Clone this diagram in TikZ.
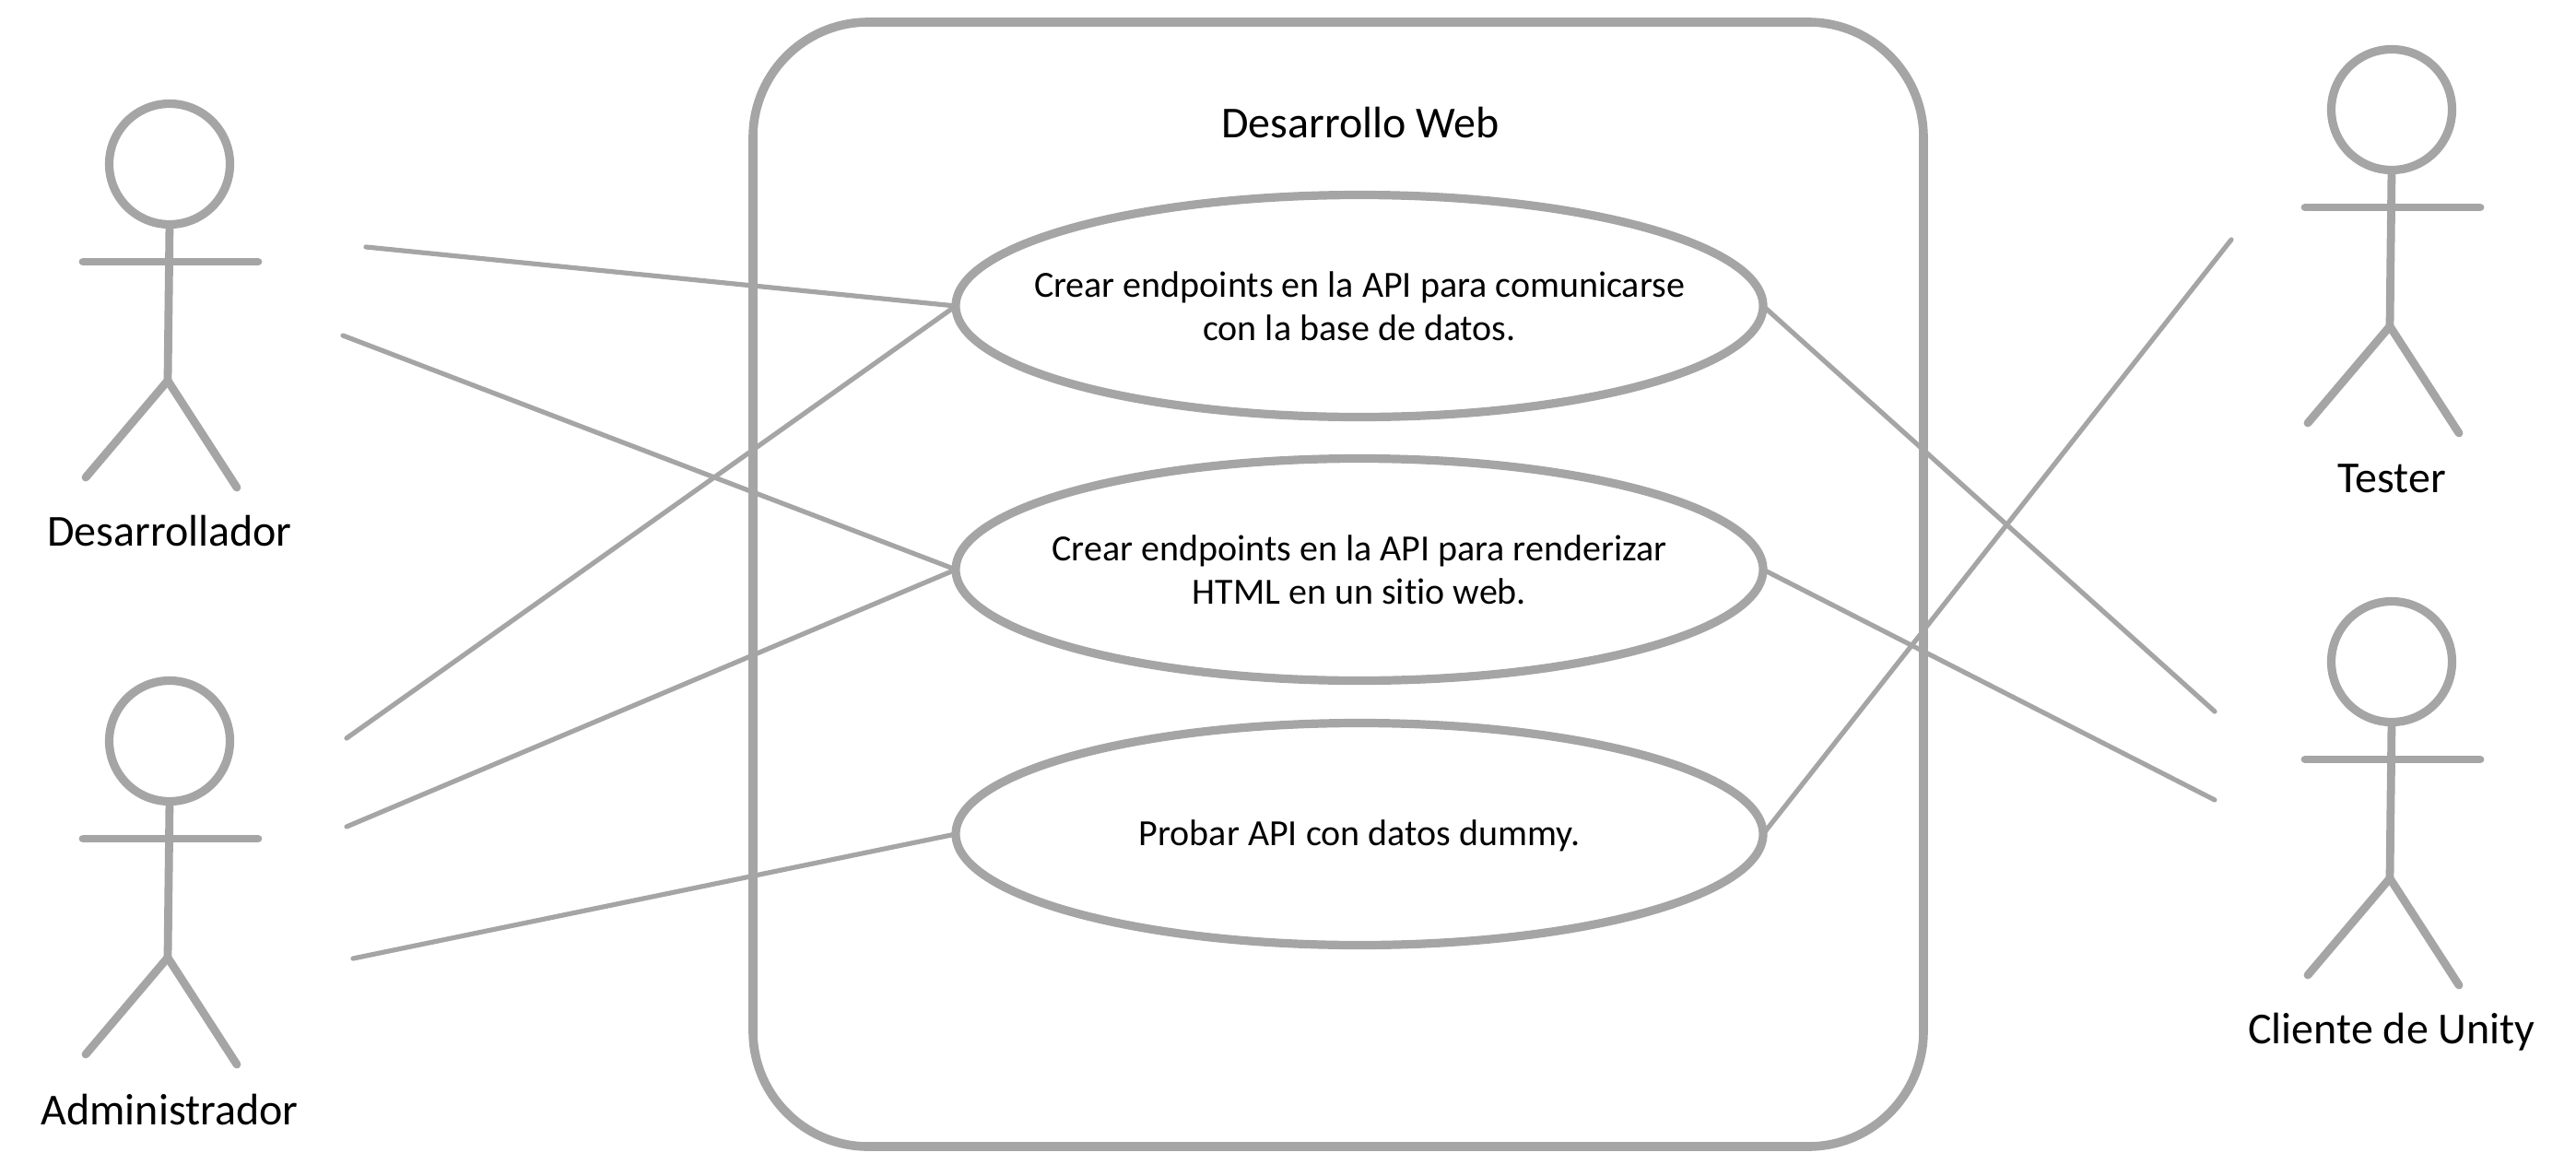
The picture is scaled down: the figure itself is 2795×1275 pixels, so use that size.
\documentclass[tikz,border=0pt]{standalone}
\usepackage{fontspec}
\setmainfont[Ligatures=NoCommon]{Carlito}
\usetikzlibrary{shapes.geometric}
\definecolor{gr}{HTML}{A5A5A5}
\tikzset{
  usecase/.style={ellipse,draw=gr,line width=4.6pt,minimum width=438pt,minimum height=120.5pt,inner sep=0pt,outer sep=0pt},
  usetext/.style={align=center,text=black,inner sep=0pt,font=\fontsize{20}{23.5}\selectfont},
  link/.style={draw=gr,line width=2.6pt,line cap=round},
  limb/.style={draw=gr,line width=4.4pt,line cap=round},
  actorname/.style={text=black,inner sep=0pt,font=\fontsize{24}{28}\selectfont},
  actor/.pic={
    \node[circle,draw=gr,line width=4.6pt,minimum size=65.5pt,inner sep=0pt,outer sep=0pt] (-head) at (0,0) {};
    \coordinate (-hip) at (-2,235);
    \coordinate (-la) at (-94,106);
    \coordinate (-ra) at (96,106);
    \coordinate (-ll) at (-91,340);
    \coordinate (-rl) at (73,351);
    \draw[limb] (-head.south) -- (-hip);
    \draw[limb] (-la) -- (-ra);
    \draw[limb] (-ll) -- (-hip) -- (-rl);
  }
}
\begin{document}
\begin{tikzpicture}[x=0.5pt,y=-0.5pt]
\useasboundingbox (0,0) rectangle (2795,1275);
% system boundary
\node[draw=gr,line width=4.8pt,rounded corners=62.5pt,minimum width=635pt,minimum height=610pt,inner sep=0pt,outer sep=0pt] (box) at (1452,634) {};
\node[text=black,inner sep=0pt,font=\fontsize{24}{28}\selectfont] (title) at (1476,133) {Desarrollo Web};
% use cases
\node[usecase] (e1) at (1475,332) {};
\node[usecase] (e2) at (1475,618) {};
\node[usecase] (e3) at (1475,905) {};
\node[usetext] (t1) at (1475,332) {Crear endpoints en la API para comunicarse\\con la base de datos.};
\node[usetext] (t2) at (1475,618) {Crear endpoints en la API para renderizar\\HTML en un sitio web.};
\node[usetext] (t3) at (1475,907) {Probar API con datos dummy.};
% actors
\pic (a1) at (184,178) {actor};
\pic (a2) at (184,804) {actor};
\pic (a3) at (2595,119) {actor};
\pic (a4) at (2595,718) {actor};
\node[actorname] (n1) at (184,576) {Desarrollador};
\node[actorname] (n2) at (184,1204) {Administrador};
\node[actorname] (n3) at (2595,519) {Tester};
\node[actorname] (n4) at (2595,1120) {Cliente de Unity};
% free ends
\coordinate (c1) at (397,268);
\coordinate (c2) at (372,364);
\coordinate (c3) at (376,801);
\coordinate (c4) at (376,897);
\coordinate (c5) at (383,1040);
\coordinate (d1) at (2403,772);
\coordinate (d2) at (2403,868);
\coordinate (d3) at (2421,260);
\draw[link] (c1) -- (e1.west);
\draw[link] (c2) -- (e2.west);
\draw[link] (c3) -- (e1.west);
\draw[link] (c4) -- (e2.west);
\draw[link] (c5) -- (e3.west);
\draw[link] (e1.east) -- (d1);
\draw[link] (e2.east) -- (d2);
\draw[link] (e3.east) -- (d3);
\end{tikzpicture}
\end{document}
